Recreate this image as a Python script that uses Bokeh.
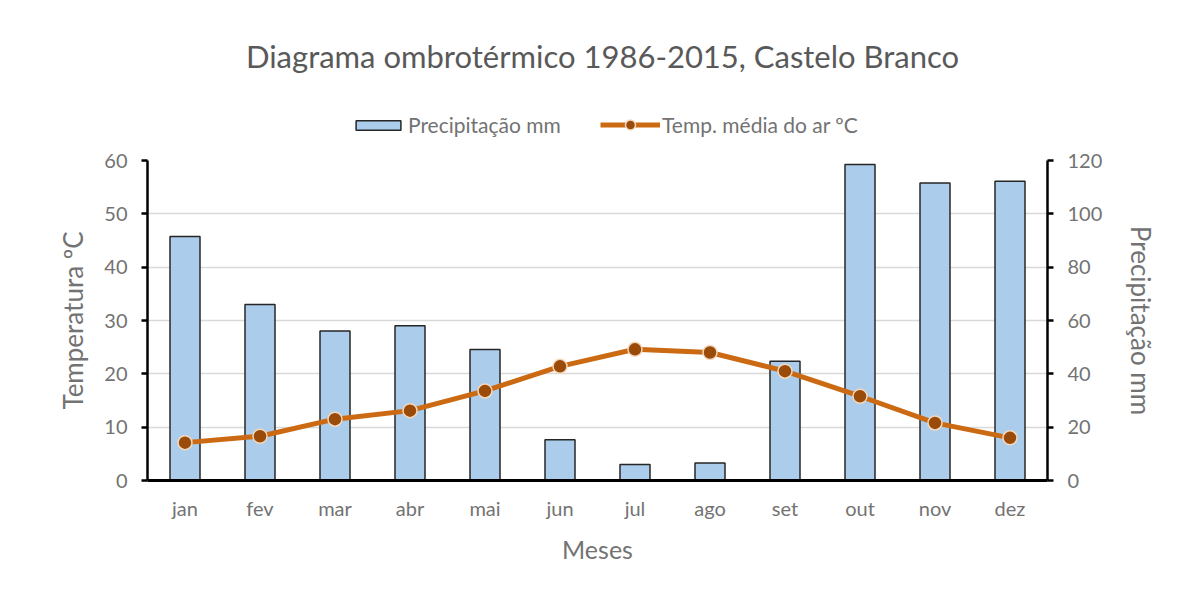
from bokeh.plotting import figure
from bokeh.layouts import column
from bokeh.models import (Range1d, LinearAxis, FixedTicker, Legend, LegendItem, FactorRange, Label)
from bokeh.embed import file_html
from bokeh.resources import INLINE

months = ["jan", "fev", "mar", "abr", "mai", "jun", "jul", "ago", "set", "out", "nov", "dez"]
precip = [91.5, 66.0, 56.1, 58.0, 49.1, 15.3, 6.0, 6.6, 44.7, 118.5, 111.6, 112.2]
temp = [7.1, 8.3, 11.5, 13.1, 16.8, 21.4, 24.6, 24.0, 20.5, 15.8, 10.8, 8.0]
temp_ticks = [0, 10, 20, 30, 40, 50, 60]
precip_ticks = [0, 20, 40, 60, 80, 100, 120]
title_text = "Diagrama ombrotérmico 1986-2015, Castelo Branco"
precip_label = "Precipitação mm"
temp_label = "Temp. média do ar ºC"

FONT = "Lato"
TXT = "#737373"
BAR_FILL, BAR_LINE = "#abcdeb", "#262626"
LINE_C, MK_FILL, MK_LINE = "#cc6a14", "#9a4b09", "#f3d8bd"
NAN = float("nan")

# ---------------- header (title + legend) ----------------
head = figure(frame_width=1188, frame_height=148, x_range=Range1d(0, 1188), y_range=Range1d(0, 148),
              output_backend="svg", toolbar_location=None, x_axis_type=None, y_axis_type=None,
              min_border=0)
head.outline_line_color = None
head.grid.grid_line_color = None

# legend-only renderers (no visible marks in the header)
hb = head.vbar(x=[NAN], top=[NAN], width=1, fill_color=BAR_FILL, line_color=BAR_LINE, line_width=1.5)
hl = head.line(x=[NAN], y=[NAN], line_color=LINE_C, line_width=5)
hs = head.scatter(x=[NAN], y=[NAN], size=14, fill_color=MK_FILL, line_color=MK_LINE, line_width=1.5)

head.add_layout(Label(x=455, y=93, x_units="screen", y_units="screen", text=title_text,
                      text_align="center", text_baseline="middle",
                      text_font=FONT, text_font_size="31px", text_color="#595959"))

leg_common = dict(orientation="horizontal", label_text_font=FONT, label_text_font_size="21px",
                  label_text_color=TXT, label_standoff=2, border_line_color=None,
                  background_fill_alpha=0, margin=0, padding=0)
head.add_layout(Legend(items=[LegendItem(label=precip_label, renderers=[hb])],
                       location=(350, 11), glyph_width=56, glyph_height=12, **leg_common))
head.add_layout(Legend(items=[LegendItem(label=temp_label, renderers=[hl, hs])],
                       location=(600, 11), glyph_width=60, glyph_height=25, **leg_common))

# ---------------- main chart ----------------
p = figure(frame_width=900, frame_height=320, x_range=FactorRange(*months, range_padding=0),
           y_range=Range1d(0, 60), output_backend="svg", toolbar_location=None,
           min_border_left=147, min_border_right=141, min_border_top=12, min_border_bottom=108)
p.extra_y_ranges = {"precip": Range1d(0, 120)}

p.outline_line_color = None
p.xgrid.grid_line_color = None
p.ygrid.grid_line_color = "#d9d9d9"
p.ygrid.grid_line_width = 1.5
p.ygrid.ticker = FixedTicker(ticks=temp_ticks)

p.vbar(x=months, top=precip, width=0.4, y_range_name="precip",
       fill_color=BAR_FILL, line_color=BAR_LINE, line_width=1.5)
p.line(x=months, y=temp, line_color=LINE_C, line_width=5)
p.scatter(x=months, y=temp, size=14, fill_color=MK_FILL, line_color=MK_LINE, line_width=1.5)

ya = p.yaxis[0]
ya.ticker = FixedTicker(ticks=temp_ticks)
ya.axis_label = "Temperatura ºC"

ra = LinearAxis(y_range_name="precip", ticker=FixedTicker(ticks=precip_ticks), axis_label=precip_label)
p.add_layout(ra, "right")
if "axis_label_orientation" in ra.properties():
    ra.axis_label_orientation = "vertical"

for ax in [ya, ra]:
    ax.axis_line_color = "black"
    ax.axis_line_width = 2.5
    ax.major_tick_line_color = "black"
    ax.major_tick_line_width = 2.5
    ax.major_tick_out = 6
    ax.major_tick_in = 0
    ax.minor_tick_line_color = None
    ax.major_label_standoff = 14
ya.axis_label_standoff = 12
ra.axis_label_standoff = 20

xa = p.xaxis[0]
xa.axis_label = "Meses"
xa.axis_line_color = "black"
xa.axis_line_width = 3
xa.major_tick_line_color = None
xa.minor_tick_line_color = None
xa.major_label_standoff = 9
xa.axis_label_standoff = 11

for ax in [ya, ra, xa]:
    ax.major_label_text_font = FONT
    ax.major_label_text_font_size = "20px"
    ax.major_label_text_color = TXT
    ax.axis_label_text_font = FONT
    ax.axis_label_text_font_size = "26px"
    ax.axis_label_text_font_style = "normal"
    ax.axis_label_text_color = TXT
xa.axis_label_text_font_size = "25px"

layout = column(head, p, spacing=0)
open("out.html", "w").write(file_html(layout, INLINE))
